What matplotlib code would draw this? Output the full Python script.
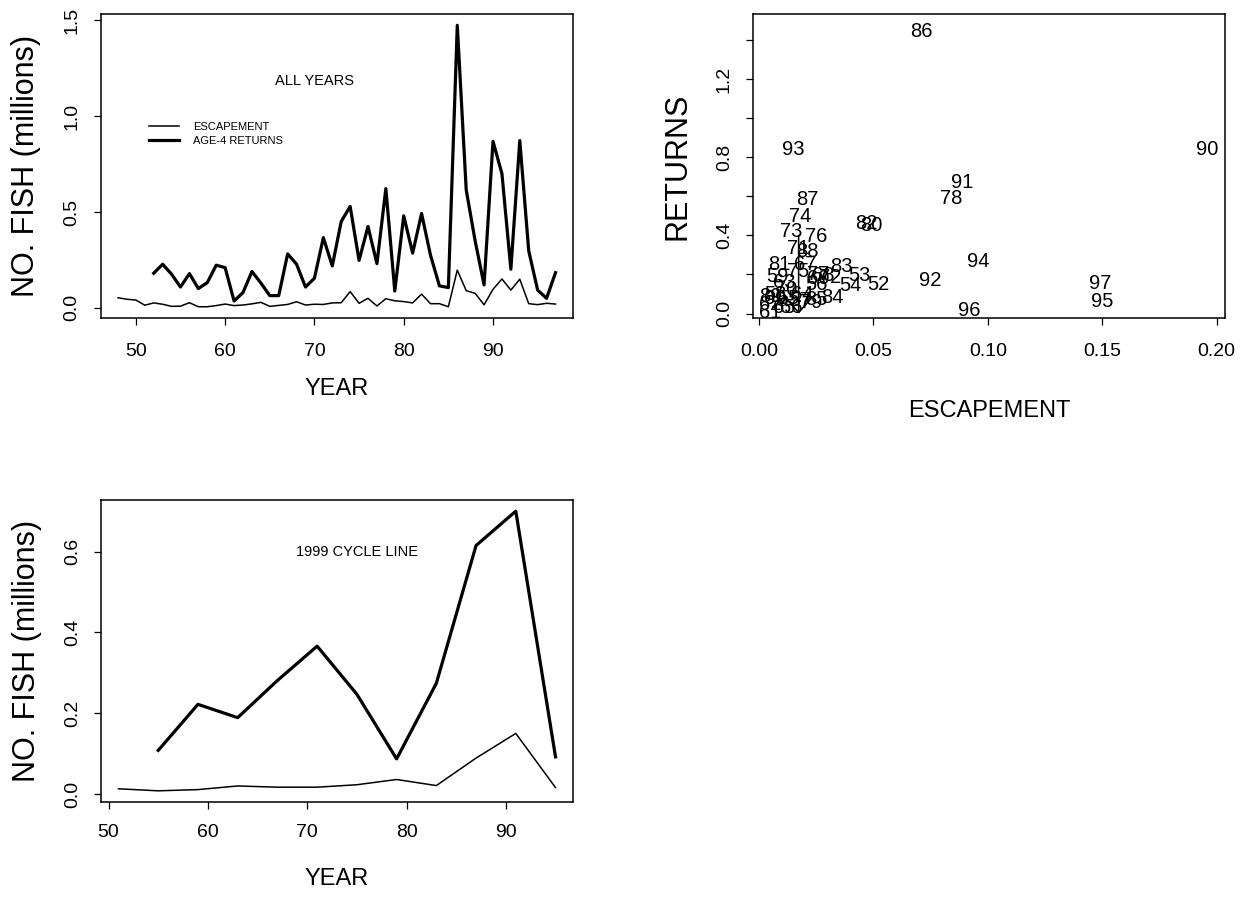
import numpy as np
import matplotlib.pyplot as plt
import matplotlib.transforms as mtransforms

plt.rcParams['font.family'] = ['Liberation Sans', 'DejaVu Sans']

# escapement by brood year (millions)
years = [48, 49, 50, 51, 52, 53, 54, 55, 56, 57, 58, 59, 60, 61, 62, 63, 64,
         65, 66, 67, 68, 69, 70, 71, 72, 73, 74, 75, 76, 77, 78, 79, 80, 81,
         82, 83, 84, 85, 86, 87, 88, 89, 90, 91, 92, 93, 94, 95, 96, 97]
escapement = [0.052, 0.044, 0.040, 0.013, 0.025, 0.018, 0.007, 0.008, 0.026,
              0.005, 0.005, 0.011, 0.019, 0.011, 0.014, 0.020, 0.028, 0.007,
              0.012, 0.017, 0.031, 0.014, 0.018, 0.017, 0.025, 0.026, 0.084,
              0.023, 0.049, 0.009, 0.047, 0.036, 0.032, 0.025, 0.071, 0.021,
              0.021, 0.005, 0.196, 0.089, 0.075, 0.015, 0.096, 0.150, 0.092,
              0.149, 0.021, 0.016, 0.023, 0.019]

# age-4 returns by return year (millions)
ret_years = [52, 53, 54, 55, 56, 57, 58, 59, 60, 61, 62, 63, 64, 65, 66, 67,
             68, 69, 70, 71, 72, 73, 74, 75, 76, 77, 78, 79, 80, 81, 82, 83,
             84, 85, 86, 87, 88, 89, 90, 91, 92, 93, 94, 95, 96, 97]
returns = [0.180, 0.227, 0.175, 0.108, 0.178, 0.100, 0.131, 0.222, 0.209,
           0.035, 0.079, 0.189, 0.129, 0.063, 0.063, 0.281, 0.227, 0.108,
           0.154, 0.366, 0.218, 0.450, 0.529, 0.247, 0.424, 0.230, 0.622,
           0.087, 0.480, 0.285, 0.492, 0.274, 0.114, 0.105, 1.475, 0.615,
           0.349, 0.119, 0.869, 0.700, 0.201, 0.873, 0.297, 0.092, 0.049,
           0.183]

cycle_years = [51, 55, 59, 63, 67, 71, 75, 79, 83, 87, 91, 95]
age = 4

arrow_x = 0.0173
arrow_top = 0.40

esc_map = dict(zip(years, escapement))
ret_map = dict(zip(ret_years, returns))

W, H = 1248, 905
fig = plt.figure(figsize=(W / 100, H / 100), dpi=100)


def style_axes(ax, xpad=12):
    for s in ax.spines.values():
        s.set_linewidth(1.1)
    ax.tick_params(direction='out', length=5, width=0.9, labelsize=14)
    ax.tick_params(axis='x', pad=xpad)
    ax.tick_params(axis='y', pad=9.5)


def ylabels(ax, ticks, labels):
    ax.set_yticks(ticks)
    ax.set_yticklabels(labels, rotation=90, va='center', fontsize=14)


# --- top left: all years
ax1 = fig.add_axes([100.5 / W, 1 - 318 / H, 472.5 / W, 304 / H])
ax1.plot(years, escapement, color='black', lw=1.1, label='ESCAPEMENT')
ax1.plot(ret_years, returns, color='black', lw=2.3, label='AGE-4 RETURNS')
ax1.margins(0.04)
ax1.set_xticks([50, 60, 70, 80, 90])
ylabels(ax1, [0, 0.5, 1.0, 1.5], ['0.0', '0.5', '1.0', '1.5'])
ax1.text(70, 1.185, 'ALL YEARS', ha='center', va='center', fontsize=10.5)
ax1.legend(frameon=False, loc='upper left', bbox_to_anchor=(0.103, 0.645),
           borderaxespad=0, borderpad=0, fontsize=8, handlelength=2.7,
           handletextpad=1.25, labelspacing=0.4)
ax1.set_xlabel('YEAR', fontsize=17, labelpad=13)
ax1.set_ylabel('NO. FISH (millions)', fontsize=22, labelpad=16)
style_axes(ax1, xpad=13)

# --- top right: returns vs parent escapement
ax2 = fig.add_axes([753 / W, 1 - 318 / H, 472 / W, 304 / H])
sx = [esc_map[y - age] for y in ret_years]
sy = returns
ax2.plot(sx, sy, linestyle='none')
ax2.margins(0.04)
lab_tr = ax2.transData + mtransforms.ScaledTranslation(0, -3 / 72, fig.dpi_scale_trans)
for y, xv, yv in zip(ret_years, sx, sy):
    ax2.text(xv, yv, str(y), ha='center', va='center_baseline', fontsize=14.5,
             transform=lab_tr)
ax2.annotate('', xy=(arrow_x, 0), xytext=(arrow_x, arrow_top),
             arrowprops=dict(arrowstyle='->,head_length=1.1,head_width=1.0',
                             mutation_scale=10, lw=1.1, color='black',
                             shrinkA=0, shrinkB=0))
ax2.set_xticks([0.0, 0.05, 0.10, 0.15, 0.20])
ax2.set_xticklabels(['0.00', '0.05', '0.10', '0.15', '0.20'])
ylabels(ax2, [0, 0.2, 0.4, 0.6, 0.8, 1.0, 1.2, 1.4],
        ['0.0', '', '0.4', '', '0.8', '', '1.2', ''])
ax2.set_xlabel('ESCAPEMENT', fontsize=17, labelpad=29)
ax2.set_ylabel('RETURNS', fontsize=22, labelpad=17)
style_axes(ax2, xpad=13)

# --- bottom left: 1999 cycle line
ax3 = fig.add_axes([101 / W, 1 - 802 / H, 472 / W, 302 / H])
c_esc = [esc_map[y] for y in cycle_years]
c_ret_years = [y for y in cycle_years if y in ret_map]
c_ret = [ret_map[y] for y in c_ret_years]
ax3.plot(cycle_years, c_esc, color='black', lw=1.1)
ax3.plot(c_ret_years, c_ret, color='black', lw=2.3)
ax3.margins(0.04)
ax3.set_xticks([50, 60, 70, 80, 90])
ylabels(ax3, [0, 0.2, 0.4, 0.6], ['0.0', '0.2', '0.4', '0.6'])
ax3.text(75, 0.6, '1999 CYCLE LINE', ha='center', va='center', fontsize=10.5)
ax3.set_xlabel('YEAR', fontsize=17, labelpad=20)
ax3.set_ylabel('NO. FISH (millions)', fontsize=22, labelpad=16)
style_axes(ax3, xpad=10.5)

fig.savefig('out.png', dpi=100)
